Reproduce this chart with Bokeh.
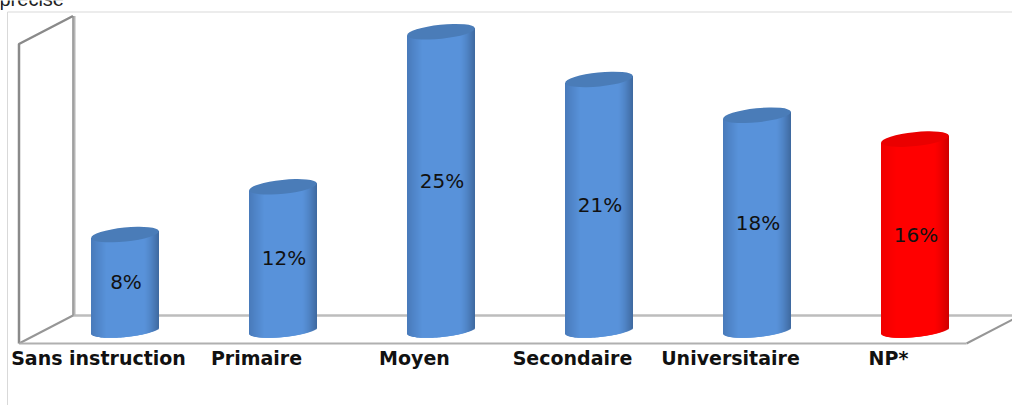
import numpy as np
from bokeh.embed import file_html
from bokeh.models import FixedTicker, LinearAxis, Range1d
from bokeh.plotting import figure
from bokeh.resources import INLINE

categories = ["Sans instruction", "Primaire", "Moyen", "Secondaire", "Universitaire", "NP*"]
values = [8, 12, 25, 21, 18, 16]
value_labels = ["8%", "12%", "25%", "21%", "18%", "16%"]
highlight = [False, False, False, False, False, True]

W, H = 1012, 405
X0_PX, STEP_PX = 98.0, 158.0     # pixel of category 0 label, pixels per category
Y0_PX, PX_PER_PCT = 329.5, 11.93  # pixel of value 0, pixels per percent
BAR_SHIFT_PX = 26.5              # 3D shift of bars relative to their labels
HALF_W_PX, TILT_PX, MINOR_PX = 34.0, 3.5, 7.0


def xd(px):
    return (px - X0_PX) / STEP_PX


def yd(px):
    return (Y0_PX - px) / PX_PER_PCT


p = figure(
    width=W, height=H, output_backend="svg", toolbar_location=None,
    x_range=Range1d(xd(0), xd(W)), y_range=Range1d(yd(H), yd(0)),
    min_border=0, min_border_left=0, min_border_right=0, min_border_top=0, min_border_bottom=0,
    outline_line_color=None, background_fill_color="white", border_fill_color="white",
    x_axis_type=None, y_axis_type=None,
)
p.grid.visible = False

# chart-area border
p.line([xd(7), xd(7), xd(W)], [yd(H), yd(11.5), yd(11.5)], line_color="#d9d9d9", line_width=1)

# cropped caption
p.text([xd(-1)], [yd(-2)], text=["précise"], text_font={"value": "Liberation Sans"},
       text_font_size="20px", text_color="#222222", text_baseline="alphabetic", text_align="left")

# 3D walls and floor
BACK, LEFT, DEPTH_X, DEPTH_Y = 315.0, 18.5, 54.0, 28.0
FRONT = BACK + DEPTH_Y
TOP_BACK = 15.5
p.line([xd(LEFT + DEPTH_X), xd(W)], [yd(BACK), yd(BACK)], line_color="#bdbdbd", line_width=2.5)
p.line([xd(LEFT + DEPTH_X + 1.5)] * 2, [yd(TOP_BACK), yd(BACK)], line_color="#b5b5b5", line_width=2)
p.line([xd(LEFT + DEPTH_X)] * 2, [yd(TOP_BACK), yd(BACK)], line_color="#8c8c8c", line_width=1.5)
p.line([xd(LEFT), xd(LEFT), xd(LEFT + DEPTH_X)], [yd(FRONT), yd(TOP_BACK + DEPTH_Y), yd(TOP_BACK)],
       line_color="#8a8a8a", line_width=2.5)
p.line([xd(LEFT), xd(LEFT + DEPTH_X)], [yd(FRONT), yd(BACK)], line_color="#969696", line_width=2)
p.line([xd(966), xd(W)], [yd(FRONT), yd(319)], line_color="#969696", line_width=2)

# category axis, placed inside the frame on the floor's front edge
axis = LinearAxis(
    ticker=FixedTicker(ticks=list(range(len(categories)))),
    major_label_overrides={i: c for i, c in enumerate(categories)},
    major_tick_line_color=None, minor_tick_line_color=None,
    major_label_standoff=-3,
    major_label_text_font="DejaVu Sans", major_label_text_font_style="bold",
    major_label_text_font_size="19px", major_label_text_color="#111111",
    axis_line_color="#b0b0b0", axis_line_width=2,
    bounds=(xd(LEFT), xd(966)), fixed_location=yd(FRONT),
)
p.add_layout(axis, "below")


def shade(t, base, left, right):
    """t in [-1, 1] across the cylinder: dark edges, flat light centre."""
    base, left, right = map(np.array, (base, left, right))
    if t < -0.55:
        c = left + (base - left) * (t + 1) / 0.45
    elif t > 0.55:
        c = base + (right - base) * ((t - 0.55) / 0.45) ** 1.4
    else:
        c = base
    return "#%02x%02x%02x" % tuple(int(round(v)) for v in c)


ts = np.linspace(-1, 1, 69)
dt = ts[1] - ts[0]
L, R, T, B, C = [], [], [], [], []
ell_x, ell_y, ell_c = [], [], []
lab_x, lab_y = [], []
for i, (v, hot) in enumerate(zip(values, highlight)):
    cx = i + BAR_SHIFT_PX / STEP_PX
    for a, b in zip(ts[:-1], ts[1:]):
        t = (a + b) / 2
        rise = t * TILT_PX / PX_PER_PCT
        arc = np.sqrt(1 - t * t) * MINOR_PX / PX_PER_PCT
        L.append(cx + a * HALF_W_PX / STEP_PX)
        # each strip runs under the next one, so no white shows through the seams
        R.append(cx + min(b + 1.5 * dt, 1.0) * HALF_W_PX / STEP_PX)
        T.append(v + rise)
        B.append(rise - arc)
        if hot:
            C.append(shade(t, (255, 0, 0), (240, 0, 0), (205, 0, 0)))
        else:
            C.append(shade(t, (88, 146, 218), (72, 122, 186), (62, 104, 158)))
    ell_x.append(cx)
    ell_y.append(v)
    ell_c.append("#ea0000" if hot else "#4a7cb8")
    lab_x.append(cx + 1 / STEP_PX)
    lab_y.append(v / 2)

p.quad(left=L, right=R, top=T, bottom=B, fill_color=C, line_color=None, fill_alpha=1.0)
p.ellipse(ell_x, ell_y, width=2 * HALF_W_PX, height=2 * MINOR_PX, angle=np.arctan2(TILT_PX, HALF_W_PX),
          width_units="screen", height_units="screen", fill_color=ell_c, line_color=None, fill_alpha=1.0)
p.text(lab_x, lab_y, text=value_labels, text_font={"value": "DejaVu Sans"}, text_font_size="20px",
       text_color="#111111", text_align="center", text_baseline="middle")

open("out.html", "w").write(file_html(p, INLINE))
